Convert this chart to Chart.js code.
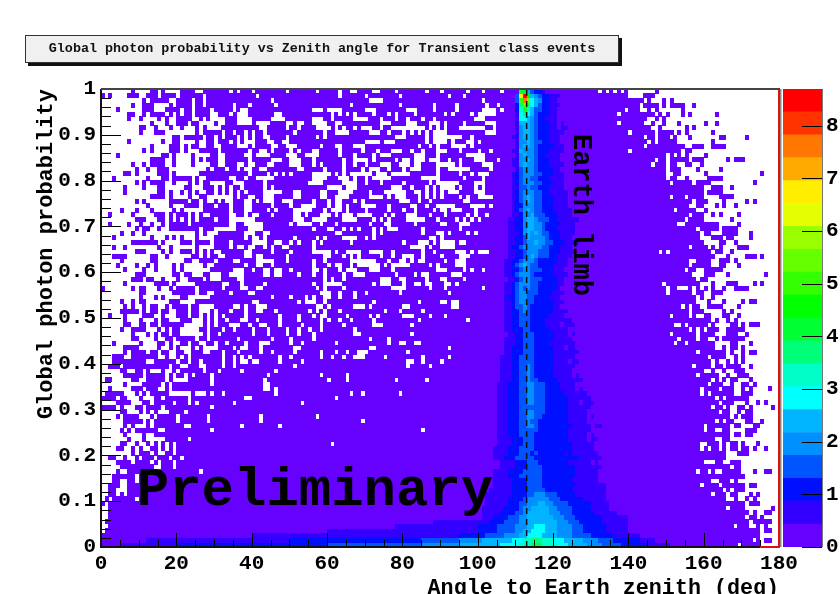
<!DOCTYPE html>
<html>
<head>
<meta charset="utf-8">
<style>
  html, body { margin: 0; padding: 0; background: #fff; overflow: hidden; }
  #main { position: absolute; left: 0; top: 0; }
  #zbar { position: absolute; left: 782px; top: 0; }
  #title {
    position: absolute; left: 25px; top: 35px; width: 592px; height: 26px; line-height: 25px;
    background: #f0f0f0; border: 1px solid #333; box-shadow: 3px 3px 0 #111;
    font: bold 13.4px "Liberation Mono", monospace; line-height: 25px; text-align: center; color: #111;
  }
</style>
<script src="https://cdn.jsdelivr.net/npm/chart.js@4"></script>
</head>
<body>
<canvas id="main" width="840" height="594"></canvas>
<canvas id="zbar" width="58" height="594"></canvas>
<div id="title">Global photon probability vs Zenith angle for Transient class events</div>
<script>
// colour bands of the z axis, bottom to top
const levelColors = ["#6600ff","#3300ff","#0010ff","#0055ff","#0090ff","#00b4ff","#00ffff","#00ffc8","#00ff78","#00ff33",
  "#00ff00","#33ff00","#66ff00","#99ff00","#e6ff00","#ffee00","#ffaa00","#ff7700","#ff3300","#ff0000"];
const zEdges = [0,0.435,0.87,1.305,1.74,2.175,2.61,3.045,3.48,3.915,4.35,4.785,5.22,5.655,6.09,6.525,6.96,7.395,7.83,8.265,8.7];
const limbAngle = 113;

// occupied bins, rows run from y=1 downward, columns are 1 deg wide
// upper left part, columns 0-55, filled spans
const fillUpper = [
"8 13-14 16 21-24 27-33 35 37-39 41-48 50-55",
"0 2 7-9 12-14 16-19 21-26 28-40 42-55",
"11 13-17 20-23 25-26 28-44 46-55",
"8 11-13 18 20-23 25-26 28-34 36-38 40-45 47-55",
"4 11-13 17-20 22-23 25-28 30-34 36 39-55",
"7-8 11 13-16 18 20 22-23 25-28 31-33 35 39-42 43-45 48-55",
"7 10 15 17 20-22 23 26 28 33-35 40-44 49-55",
"13 17 20-22 24-25 30 33-35 40 45-48 51 54-55",
"10-11 14 18 21 25 27 32-39 40-41 44-48 50-51 53-55",
"10 14-16 25 27-29 30-31 33-34 36-37 39 41-42 44-50 52-55",
"19-20 22-26 28-29 31 33-35 37 39 41-42 45-48 50-55",
"7 16 19-20 25 28-29 31-33 35 37 41-43 46-47 50-55",
"13 18-20 22 24-25 28-29 32-35 39 41-44 47-48 52-55",
"11 13 18-20 22 26-30 32-36 37-38 40-41 44 46-49 51 53-55",
"4 16-17 19 24 29-30 33-37 40 45-48 52-53",
"13-16 19 24 26 28-30 33-36 37-38 40-44 48-49 53-55",
"8 11 13-16 19 24 29-30 33-35 38 41-43 46-49 53-55",
"9 12 15-17 28 30-32 34-35 37 40-41 44-51 54-55",
"6-7 9 15-17 19 26-28 29-34 35-38 40-43 45 47 49 51-55",
"3 12 16-17 19-23 25 28-33 36-37 39-40 46-55",
"9 11 13-16 19 23 25 27-28 33-34 38-42 44-54",
"6 11 15-16 22-23 27-29 31 33 35-36 38-42 44 46-55",
"6 15-16 18 21 23 25 28-29 31 33 35 37 39-42 48-50 53-55",
"13-16 18 23 26-27 35 37-38 41-42 46-50 53-55",
"9 11 18-22 24-25 27 30 32 35-37 40 42 46-47 51-55",
"12 18 22-25 27-29 31-33 35-37 40-44 46-49 51-52",
"5 9 13 19 21 27-30 31-33 35-37 40-43 45 47-50",
"2 8 14-16 18 20-22 24 26 29-33 36-37 39 42-44 46-50 53 55",
"9-11 15-16 18 20 22 24 26-29 31-33 41-46 47-50 54-55",
"2 7 10 13 16 18-22 24-30 31-33 36-37 43-49 51",
"9 11-12 15 18-25 27-29 36-38 43-55",
"5 8 11 25 27 31-37 41-42 45-55",
"3 13 17 19 21 25 30-37 39 42 44-50 52-55",
"8-10 11-14 16 21-23 25-28 30-33 35-39 44-45 48-49 51 53-55",
"3 6 15 18 25 30-33 35 38 41-42 44 46-47 50-55",
"9-11 16 18 21-23 25 27 29 32-37 40-44 46-49 51-55",
"3-6 13-14 17 24-25 27 29-30 33-37 40 43-48 50-55",
"5 13-14 22-23 26-29 31-34 37-40 46-48 50-55",
"4 9 12 14 19 21 27 30-37 39-40 43-44 46-55",
"6 11 14 19 21 29-34 38-39 41-42 45 48-49 51-55",
"9-11 19-20 22-23 27-28 32-33 38-42 45 48-51 53-55",
"8-10 12-13 16 20 23-26 28 32-35 38-55",
"6 14-16 17 19 25-31 34-36 38-42 44-55",
"0 8 10-11 15 18 20-24 26-31 33-36 39-40 43-55",
"10-11 19-24 26-27 30-33 35-38 41-55",
"10 14 16 21-22 29-38 39-44 46-49 51-53 55",
"5 8 10-11 18-20 25-39 42-51 53",
"6 8 11 13-14 17 19-22 24-25 30-34 37 39-40 44-55",
"5-7 8-9 11 13-14 16-17 20-22 24-25 29 31-33 35-37 39-40 43-45 47-54",
"2 6 11-13 16 20-22 24-25 27 29 31 33-37 39-46 48-51 53-55",
"6 10 14 16-17 21-23 27 29 31-32 34-36 39-40 42-46 48-51 53-55"
];
// upper middle part, holes, counted from column 56
const holesUpper = [
"1 7 10-11 16-17 22 30 34 41 45 50 76 78 80 82 84-86",
"7 14 23 36 40 84-86",
"15-18 45",
"10 23 32 38 46 49",
"0-2 4-7 14-16 25-27 32 38 45-48 50 83",
"5 7 9 11 16 20 22 27 35 37 42 44-48 81",
"0-2 5 11-14 18 22 25 29 32 43-45",
"0-3 6-7 18-20 25-27 31-33 35 40 46-48 81",
"1-4 6 8 11 13-15 18 21-25 26-29 31 33 35 39-42 43-45 48",
"3 6-9 15-17 20 24 26 28 30 32-34 35 46-48 84",
"1 3 22-24 30 32-39 42",
"14-16 17 19-21 30 32-35 37 41-42 44",
"2 6-7 11-13 28 31 33 37-40 42",
"0-1 7 13 17 21-23 26 29 33-35 39 44 47 84",
"0 1 7 11 16 18-20 27-29 33 41-45",
"0 8 11-14 16 22 24-25 27-29 31-33 36 39 43-45 49",
"0 2 8 11 14 18-20 23-25 27-28 33-37 39 45-47",
"3 8 13 15-17 20 24 26-28 33 36-39 40-41 47",
"0-3 4 6 8 10-14 15 17-19 21-25 33 39 42 44-46",
"0-3 7-9 11 14 16-20 29-33 40 45",
"0-2 8-10 11 14 18 24 31 33-38 43-45",
"4-6 7 9-11 21-23 26 30 32 34-37 39 43 45",
"2-3 7-10 15 19-24 27-28 30 32 34 36-38 43-45",
"2-3 6-9 15-17 18 20 22-24 28 30 32 34 39 41 44-47",
"0 4 6-7 11 13 23-25 28 31 40-41",
"0 4 6-7 9 13-15 16 20 26-27 30 33-37 42-45 47",
"3 5-7 9 14 20 24 27 32 34-35 37-39 43",
"2-4 6 8-10 12-15 19 21 25-27 31 35 41 43 46",
"0-3 8-11 16 18 20 25-29 33 38 40 42 44",
"2 6 15 19-20 27 34-35 39-41",
"0 4-5 8 10 12 16 18 20-22 29 39",
"6-7 16 18 29 33-34 36 41 43",
"1 3 8-11 14 16 31-32 34",
"0 2 10 24 28-30 32 34-37 39-40",
"0 26-29 31 34-37",
"0-3 4 6 9-11 12 15-17 18 21 29 32 38-40 42 44-46",
"3 4 8 10 12 18 21 24-26 29 34 39-41",
"0 3 10 11-16 20 23-24 26 28-29 35 38-40",
"0 4 6-7 10 12-14 15-17 19 21-24 25 31 33 38-40",
"0-1 3 7 9-11 15-17 21 33-35 40 42 45",
"0 3 8 11-13 22 27 29-30 37-39",
"3 5 8 18-20 23-24 30 34-35 40",
"0 3-7 16 18-20 24 27-28 30-31 35-36 38",
"1 3 8 21-24 31 35 45",
"2-4 7 11 14 23 36",
"0 3-4 7 11",
"0 3 16 28 34-35 37-38",
"1-2 4 11-13 15 24-25 37-38",
"1 3 7 19 23 29",
"0 2-3 9 15 17 24-26 31 35",
"2 4 7 10 16 28 41"
];
// lower part, holes, absolute columns
const holesLower = [
"0-5 8-9 12 15 22-26 28 30 34-36 39 42-43 47 53 58 64 72-74 82",
"0-4 6-7 12-14 16 18 21-25 28 32 35 40 44 49 52 55 58 67",
"0-7 9-11 13 15 18 21-26 28 31 40 44 49 52 56 67-68 82",
"0-7 10-13 15-16 19 25 28 36 45 50 56 71 76",
"0-2 4-9 11-14 17 19-20 23 26-27 30 33 38 42-44 50 53 62 76 79-80 83-84",
"0-5 10-14 16-17 19 21-23 25 27-30 35 37-38 42 51-52 71-72 92",
"0-5 7 12 15 18-19 22-23 27-28 32 36 42 45 51 58 62 65 68-70 81",
"0-2 6-7 15-16 18-19 21 23 32 35 37 39 47 50 58 61 64 67-69 75 85 92",
"0-2 12-13 20 23 26 32 35 37-38 40-41 47 53 81-82 85 90",
"0-1 5 18 21-22 26-27 32 35 51 81 87",
"0-4 7-8 11 13-15 17-18 20 27 31 37 46",
"0-5 11 17 19 22 24 29 44 58 65",
"0 3-7 10-11 17 19-22 29 43 60 65 78 86",
"0-5 7-10 16 18 29 43-44",
"0-1 3-7 11 15-16 18 43-44 46",
"0 6-8 10 12 18-23 25-27 29 32 46 66 69 79",
"4 7-9 11-13 16 23 38-39 62",
"0-3 8-10 13 19 23 25 35 53",
"4 6-8 11 16 29",
"0-4 7-9 11 13 15-17 22",
"0-3 5 10-12 14 20 28 42 57",
"0-5 11 13 20 28 42 69",
"0-5 7 9-11 13 22-23 37 47",
"0-4 6 8 15-16 29 85",
"0-5 7-10 12-13",
"0-6 8-10 12-16 23",
"0-4 7-8 10-11 13 15 17 19 61",
"0-3 6-7 9 11-12 15 17 19",
"0-7 9 13 15-16 19",
"0-1 4-5 7-8 10 14 18 21",
"0-3 8 13 15 19",
"0-4 14-15 19",
"0-3 5-6 26",
"0-2 9",
"0-2 5-6 9",
"0-1 5-6",
"0-1 4-6",
"0-1 4 6",
"0 2 9",
"1",
"0-1",
"0-1",
"0-1",
"0",
"0-1",
"0",
"",
"",
""
];
// right side, filled spans, columns 143-179
const fillRight = [
"147","144-146","143 145 149 151","144-147 149 151-153 154 157","145 147 154",
"143-146 148 150 154 156 163","143-144 147 149","143 146 149 153 160 163","143-145 148 155 157",
"143-146 148-151 153 155 162","143 145-146 148-150 152 156 164-165 171","143-144 146 148-152 162",
"143 145-154 157-159 162-164 165","143-153 155-156","143-149 151 153 155 160",
"143-146 148-149 151 152-155 157-159 166 168-170","143-145 147-149 151-152 155-156 159",
"143-149 151-153 158 164","143-149 152-153 160 175","143-149 151-152 155 161-164",
"143-150 152-156 158-161 173","143-159 162-164 167","143-159 161-163 164","143-150 152-154 156-159 164-166 167",
"143-156 158-160 165 171 173","143-155 158-159 163 165 168","143-151 153-157 160","143-155 157-159 162 164 169",
"143-154 156-159 167","143-152 155-163 169","143-157 159-163 165-168","143-158 160-161 165-168 172",
"143-158 162-164 166-167 172","143-159 164-165 168","143-155 157-160 162 164 169-171","143-147 149 151-161 163-164 167",
"143-156 157-162 166 171-173 175","143-155 158-161 164-166 168","143-155 157-161 164-165 169","143-154 156-157 160-164",
"143-156 160-162 166 176","143-157 159-160","143-148 150-157 157-158 162 166-168 173 175",
"143-149 151-152 156 158 160 162 165 168-170 171","143-149 151-156 158-159 162-164","143-157 159 162",
"143-157 161 165 170 172-173","143-153 155 157-158 161-164 169","143-155 157-159 165 167","143-150 152-155 157 160-161 165-166 169",
"143-161 163 166 168",
"143-151 154 156-160 162 167-168 170 172-174","143-155 157 159 161-163 166-167 168-170","143-150 152-157 159-162 166-168 171",
"143-152 154-157 159-160 163 165-170","143-151 153-154 156-162 167-168 172","143-162 165 167-168 170",
"143-157 159-165 167 170 172-173","143-160 162-165 168 170","143-161 163 166 168 170","143-156 158-161 163-164 166-169 172",
"143-159 162 165 168-170","143-157 159-163 166 169-171","143-161 163 165 167-168 172","143-160 162-164 167 170-171 173",
"143-158 160-163 165-167 170 172 177","143-158 160 162-167 170-172","143-162 164 166-168 169-171","143-163 165-167 171 174 176",
"143-161 163-164 166 169-170 172 178","143-163 165-166 169 171-172","143-166 168 170-172","143-162 164 166-167 171-172 175",
"143-159 161-166 168-169 173-174","143-159 161-162 165-166 171-173","143-166 168-169 171-172","143-162 165-166",
"143-158 161-163 165 167-168 170 174","143-158 160 162-163 165 167-168 170-171 173 176","143-165 169-171","143-165",
"143-159 163-164 167-169","143-166 168-169","143-157 159-160 162 165-169 173 176-177","143-170","143-161 164-166 168",
"143-158 160-163 165-170 172-173","143-164 166 168-170","143-161 163-165 167-168 172 174","143-165 168 171 173",
"143-170 172-174","143-165 167-170 178","143-171 173 176-177","143-170 172-173 175","143-171 173-177",
"143-167 169-171 174 176","143-174 176-177","143-174","143-172 174 176-177","143-168 170-174"
];
// limb band, one level digit per bin from column 100 (0-9 then a-j)
const ridge = [
"00000000000995322100","00000000003fja54322111","00000000003bhc65422110","000000000028c865322111",
"000000000027975332211","000000000016865322211","000000000016654322111","00000000001555432221101",
"000000000014554322211011","00000000001455432221111","0000000001145543222111","00000000001445433221110",
"00000000001455432222111","00000000011544432221111","0000000000145443221111","0000000001144543222111",
"00000000011454432221111","0000000000134443222211","00000000012344433222111","00000000012344332221111",
"00000000012344433222111","00000000011334332221111","000000000123444332211111","000000000123454332221111",
"000000000123454332221111","000000000122444332221111","0000000001234543322211111","0000000001124453332221111",
"000000001122455433322111111","00000000112245544322221111","00000000112245544322211111","00000000111245454332221111",
"0000000011223544443222111","000000001122344544332221111","0000000012234444433222111","00000000112234443332221111",
"0000000011223454333221111","000000011223444322222111","000000011234543322221111","00000001122344333222111",
"000000011234443222221111","00000000112344333222211","00000001123444332222211","0000000112343433222221",
"00000001123443332222111","0000000122344332222111","00000001123443322222111","0000000112334322222211",
"000000011223432222221111","00000001122333222221111","0000000112233322221111111","00000001122333222211110111",
"000000011222332222211111","00000000112233322222111101","0000000111223332222211111","00000001112233322221111111",
"00000001122233322222111011","000000011222333222221111111","00000011122333322222111111","000000111223333222221111011",
"00000011122334322222111111","0000001112233432222211111","000000111223343222221111101","0000001112233433222221111111",
"00000111222334433322221111","0000011122233443332222111101","00000111222334433322222111111","000001112223344333222222111111",
"0000011122233443332222221110111","000001112223333333222222111111","00000111222334433322222211111","0000011122233443322222221111101",
"00000111222334332222222211111","000001112223344322222222211111011","000001112223333322222222111111","0000011122233332222222221111101",
"00000111122233322222222211111011","0000011112223332222222222111111","00001111222333322222222221111110","00001111222333232222222121111111",
"000011122233333222222222222111111","00000011112223332222222211111101","000000111122233332222222221111111","00001111222233333222222222111111",
"00001111222333333222222222111111","00001111122223333222222221111111","0000111112222333322222222211111111","0001111112222333332222222111111111",
"0011111112222334443332222211111111","0011111122223444444333222222111111","00111111222334445544333322222211111","01111112222344555554433332222211111",
"0111112222334555555444333222222111111","0111222233344555555544433322222221111111","1112222333344555555554443332222221111111","2222233333444556665554444333222222111111",
"2222233333445566665554444333222222111111"
];
// bottom rows of the picture: row, first column, last column, level
const baseSpans = [
[94,88,99,1],[95,78,99,1],[96,60,99,1],
[97,40,94,1],[97,95,101,2],[97,102,106,3],[97,107,110,4],[97,111,112,5],[97,113,116,6],[97,117,120,5],[97,121,124,4],[97,125,129,3],[97,130,135,2],[97,136,142,1],
[98,12,49,1],[98,50,84,2],[98,85,94,3],[98,95,100,4],[98,101,108,5],[98,109,111,6],[98,112,113,7],[98,114,116,8],[98,117,119,7],[98,120,122,6],[98,123,127,5],[98,128,131,4],[98,132,135,3],[98,136,142,2],[98,143,146,1],
[99,5,19,1],[99,20,59,2],[99,60,84,3],[99,85,94,4],[99,95,105,5],[99,106,110,6],[99,111,113,7],[99,114,116,9],[99,117,120,7],[99,121,123,6],[99,124,128,5],[99,129,132,4],[99,133,137,3],[99,138,144,2],[99,145,150,1]
];

const monoBold = size => ({ family: "'Liberation Mono', monospace", weight: "bold", size: size });

function spanList(text, offset) {
  const out = [];
  text.split(" ").forEach((t) => {
    if (!t) return;
    const p = t.split("-").map(Number);
    out.push([p[0] + offset, (p.length > 1 ? p[1] : p[0]) + offset]);
  });
  return out;
}

// build the 180 x 100 table of levels, -1 means an empty bin
const table = [];
for (let r = 0; r < 100; r++) {
  const row = new Array(180).fill(-1);
  if (r < fillUpper.length) {
    spanList(fillUpper[r], 0).forEach((s) => row.fill(0, s[0], s[1] + 1));
    row.fill(0, 56, 143);
    spanList(holesUpper[r], 56).forEach((s) => row.fill(-1, s[0], s[1] + 1));
  } else {
    row.fill(0, 0, 143);
    spanList(holesLower[r - fillUpper.length], 0).forEach((s) => row.fill(-1, s[0], s[1] + 1));
  }
  spanList(fillRight[r], 0).forEach((s) => row.fill(0, s[0], s[1] + 1));
  if (ridge[r]) {
    for (let i = 0; i < ridge[r].length; i++) {
      const lv = parseInt(ridge[r][i], 20);
      if (lv > 0) row[100 + i] = lv;
    }
  }
  table.push(row);
}
baseSpans.forEach((s) => {
  for (let c = s[1]; c <= s[2]; c++) table[s[0]][c] = s[3];
});

// one scatter dataset per colour band, each bin is a small canvas tile
function tile(color) {
  const c = document.createElement("canvas");
  c.width = 4;
  c.height = 5;
  const g = c.getContext("2d");
  g.fillStyle = color;
  g.fillRect(0, 0, 4, 5);
  return c;
}
const cellSets = levelColors.map((color, lv) => {
  const pts = [];
  table.forEach((row, r) => row.forEach((v, c) => {
    if (v === lv) pts.push({ x: c + 0.5, y: 1 - (r + 0.5) / 100 });
  }));
  return { type: "scatter", data: pts, pointStyle: tile(color), pointRadius: 3, pointHoverRadius: 3, showLine: false };
});

// inward ticks, frame and the two notes on the plot
const framePlugin = {
  id: "frame",
  afterDraw(chart) {
    const { ctx, chartArea: a, scales: { x, y } } = chart;
    ctx.save();
    ctx.strokeStyle = "#000";
    ctx.lineWidth = 1;
    ctx.beginPath();
    for (let v = 0; v <= 180; v += 5) {
      const px = Math.round(x.getPixelForValue(v)) + 0.5;
      ctx.moveTo(px, a.bottom);
      ctx.lineTo(px, a.bottom - (v % 20 === 0 ? 14 : 7));
    }
    for (let i = 0; i <= 50; i++) {
      const py = Math.round(y.getPixelForValue(i / 50)) + 0.5;
      ctx.moveTo(a.left, py);
      ctx.lineTo(a.left + (i % 5 === 0 ? 20 : 10), py);
    }
    ctx.stroke();

    ctx.fillStyle = "#000";
    ctx.font = "bold 54px 'Liberation Mono', monospace";
    ctx.textBaseline = "alphabetic";
    ctx.fillText("Preliminary", x.getPixelForValue(9.5), y.getPixelForValue(0.092));
    ctx.save();
    ctx.translate(x.getPixelForValue(125.5), y.getPixelForValue(0.725));
    ctx.rotate(Math.PI / 2);
    ctx.font = "bold 27px 'Liberation Mono', monospace";
    ctx.textAlign = "center";
    ctx.fillText("Earth limb", 0, 0);
    ctx.restore();

    // frame
    ctx.lineWidth = 2;
    ctx.strokeStyle = "#111";
    ctx.beginPath();
    ctx.moveTo(a.left, a.top);
    ctx.lineTo(a.left, a.bottom);
    ctx.lineTo(x.getPixelForValue(175), a.bottom);
    ctx.stroke();
    ctx.strokeStyle = "#444";
    ctx.beginPath();
    ctx.moveTo(a.left, a.top);
    ctx.lineTo(a.right + 1, a.top);
    ctx.stroke();
    ctx.strokeStyle = "#888";
    ctx.beginPath();
    ctx.moveTo(a.right + 1.5, a.top);
    ctx.lineTo(a.right + 1.5, a.bottom);
    ctx.stroke();
    ctx.strokeStyle = "#e01010";
    ctx.beginPath();
    ctx.moveTo(a.right, a.top);
    ctx.lineTo(a.right, a.bottom);
    ctx.lineTo(x.getPixelForValue(175), a.bottom);
    ctx.stroke();
    ctx.restore();
  },
};

new Chart(document.getElementById("main"), {
  data: {
    datasets: [
      {
        type: "scatter",
        data: [{ x: limbAngle, y: 0 }, { x: limbAngle, y: 1 }],
        showLine: true,
        pointRadius: 0,
        borderColor: "#111",
        borderWidth: 1.5,
        borderDash: [6, 5],
      },
    ].concat(cellSets),
  },
  options: {
    responsive: false,
    animation: false,
    events: [],
    layout: { padding: { left: 0, top: 89, right: 61, bottom: 0 } },
    plugins: { legend: { display: false }, tooltip: { enabled: false } },
    scales: {
      x: {
        type: "linear",
        min: 0,
        max: 180,
        grid: { display: false },
        border: { display: false },
        afterFit(s) { s.height = 47; },
        ticks: { stepSize: 20, maxRotation: 0, autoSkip: false, color: "#000", font: monoBold(21), padding: -4 },
        title: {
          display: true,
          text: "Angle to Earth zenith (deg)",
          align: "end",
          color: "#000",
          font: Object.assign(monoBold(21.7), { lineHeight: 1 }),
          padding: { top: 0, bottom: -5 },
        },
      },
      y: {
        type: "linear",
        min: 0,
        max: 1,
        grid: { display: false },
        border: { display: false },
        afterFit(s) { s.width = 101; },
        ticks: {
          stepSize: 0.1,
          autoSkip: false,
          color: "#000",
          font: monoBold(21),
          padding: -3,
          callback: (v) => String(+v.toFixed(1)),
        },
        title: {
          display: true,
          text: "Global photon probability",
          align: "end",
          color: "#000",
          font: monoBold(22),
          padding: { top: 33, bottom: 0 },
        },
      },
    },
  },
  plugins: [framePlugin],
});

// z axis: colour bar in its own small chart
const barPlugin = {
  id: "barTicks",
  afterDraw(chart) {
    const { ctx, chartArea: a, scales: { y } } = chart;
    ctx.save();
    ctx.strokeStyle = "#000";
    ctx.lineWidth = 1;
    ctx.beginPath();
    for (let v = 0; v <= 8; v++) {
      const py = Math.round(y.getPixelForValue(v)) + 0.5;
      ctx.moveTo(a.right - 20, py);
      ctx.lineTo(a.right, py);
    }
    ctx.stroke();
    ctx.strokeStyle = "#777";
    ctx.beginPath();
    ctx.moveTo(a.right + 0.5, a.top);
    ctx.lineTo(a.right + 0.5, a.bottom);
    ctx.stroke();
    ctx.restore();
  },
};

new Chart(document.getElementById("zbar"), {
  type: "bar",
  data: {
    labels: ["z"],
    datasets: levelColors.map((color, i) => ({
      data: [[zEdges[i], zEdges[i + 1]]],
      backgroundColor: color,
      barPercentage: 1,
      categoryPercentage: 1,
      grouped: false,
    })),
  },
  options: {
    responsive: false,
    animation: false,
    events: [],
    layout: { padding: { left: 1, top: 89, right: 0, bottom: 47 } },
    plugins: { legend: { display: false }, tooltip: { enabled: false } },
    scales: {
      x: { display: false },
      y: {
        position: "right",
        min: 0,
        max: 8.7,
        grid: { display: false },
        border: { display: false },
        afterFit(s) { s.width = 18; },
        afterBuildTicks(s) { s.ticks = s.ticks.filter((t) => Number.isInteger(t.value)); },
        ticks: { stepSize: 1, color: "#000", font: monoBold(21), padding: -4 },
      },
    },
  },
  plugins: [barPlugin],
});
</script>
</body>
</html>
